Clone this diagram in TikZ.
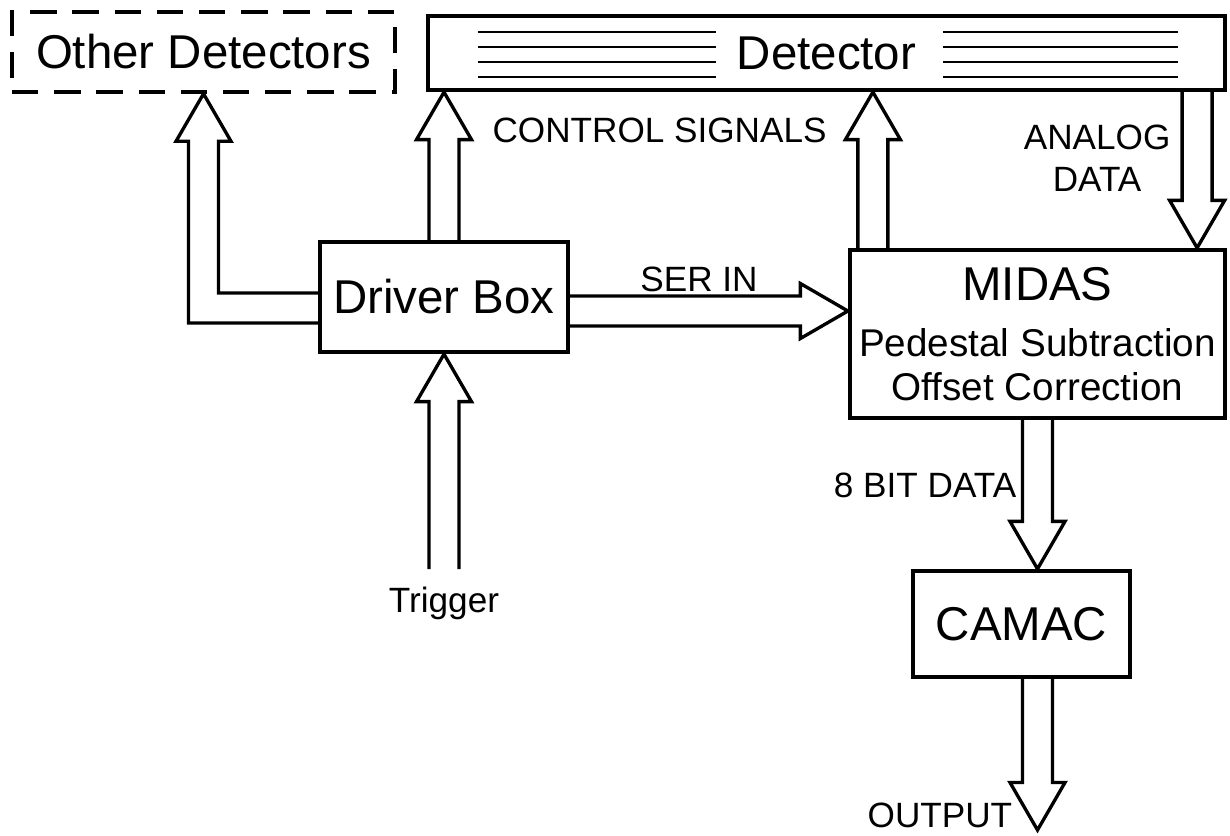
\documentclass[tikz,border=0pt]{standalone}
\usepackage{fontspec}
\setmainfont{Liberation Sans}
\usepackage{tikz}
\usetikzlibrary{positioning, calc}

\tikzset{
    box/.style={draw, line width=2.4pt},
    dashbox/.style={draw, line width=2pt, dash pattern=on 15pt off 9pt},
    blockarrow/.style={line width=1.9pt, line join=miter},
    detline/.style={line width=1.5pt},
    boxtext/.style={font=\fontsize{27}{32}\selectfont},
    lbl/.style={font=\fontsize{20}{24}\selectfont, inner sep=0pt}
}

% hollow block arrow from #1 to the tip #2
\newcommand{\hollowarrow}[2]{%
    \path (#2) coordinate (tip) ($(#2)!0.95cm!(#1)$) coordinate (base);
    \draw[blockarrow] ($(#1)!0.3cm!90:(tip)$) -- ($(base)!0.3cm!90:(tip)$)
        -- ($(base)!0.55cm!90:(tip)$) -- (tip) -- ($(base)!0.55cm!-90:(tip)$)
        -- ($(base)!0.3cm!-90:(tip)$) -- ($(#1)!0.3cm!-90:(tip)$);
}

\begin{document}
\begin{tikzpicture}
    \useasboundingbox (0,0) rectangle (24.6,-16.7);

    % Boxes
    \node[dashbox, boxtext, minimum width=7.66cm, minimum height=1.6cm] (other) at (4.07,-1.04) {Other Detectors};
    \node[box, boxtext, minimum width=15.94cm, minimum height=1.48cm] (det) at (16.53,-1.06) {Detector};
    \node[box, boxtext, minimum width=4.96cm, minimum height=2.2cm] (drv) at (8.88,-5.94) {Driver Box};
    \node[box, align=center, minimum width=7.5cm, minimum height=3.36cm, font=\fontsize{22}{25}\selectfont] (midas) at (20.75,-6.68)
        {{\fontsize{27}{30}\selectfont MIDAS}\\[7pt]Pedestal Subtraction\\Offset Correction};
    \node[box, boxtext, minimum width=4.34cm, minimum height=2.12cm] (camac) at (20.43,-12.48) {CAMAC};

    % Detector strips
    \foreach \dy in {0.42,0.12,-0.18,-0.48} {
        \draw[detline] ($(det.center)+(-6.97,\dy)$) -- ($(det.center)+(-2.21,\dy)$);
        \draw[detline] ($(det.center)+(2.33,\dy)$) -- ($(det.center)+(7.03,\dy)$);
    }

    % Trigger
    \node[lbl, below=4.65cm of drv] (trg) {Trigger};
    \coordinate[above=0.35cm of trg] (trgin);
    \hollowarrow{trgin}{drv.south}

    % Driver box to detector
    \coordinate (drvup) at (drv.north |- det.south);
    \hollowarrow{drv.north}{drvup}

    % Driver box to other detectors
    \coordinate (lstart) at ($(drv.west)+(0,-0.22)$);
    \coordinate (lbend) at (other.south |- lstart);
    \coordinate (lbase) at ($(other.south)+(0,-0.95)$);
    \draw[blockarrow] ($(lstart)+(0,0.3)$) -- ($(lbend)+(0.3,0.3)$) -- ($(lbase)+(0.3,0)$)
        -- ($(lbase)+(0.55,0)$) -- (other.south) -- ($(lbase)+(-0.55,0)$)
        -- ($(lbase)+(-0.3,0)$) -- ($(lbend)+(-0.3,-0.3)$) -- ($(lstart)+(0,-0.3)$);

    % SER IN
    \coordinate (serout) at ($(drv.east)+(0,-0.28)$);
    \coordinate (serin) at (midas.west |- serout);
    \hollowarrow{serout}{serin}
    \node[lbl] (serlbl) at ($(serout)!0.5!(serin)+(-0.2,0.64)$) {SER IN};

    % Control signals
    \coordinate (ctrlout) at ($(midas.north west)+(0.5,0)$);
    \coordinate (ctrlin) at (ctrlout |- det.south);
    \hollowarrow{ctrlout}{ctrlin}
    \node[lbl, anchor=east] (ctrl) at ($(ctrlin)+(-0.92,-0.76)$) {CONTROL SIGNALS};

    % Analog data
    \coordinate (anain) at ($(midas.north east)+(-0.6,0)$);
    \coordinate (anaout) at (anain |- det.south);
    \hollowarrow{anaout}{anain}
    \node[lbl, align=center] (ana) at ($(anaout)+(-2.0,-1.32)$) {ANALOG\\DATA};

    % 8 bit data
    \coordinate (camin) at (midas.south |- camac.north);
    \hollowarrow{midas.south}{camin}
    \node[lbl, anchor=east] (bits) at ($(midas.south)+(-0.42,-1.3)$) {8 BIT DATA};

    % Output
    \coordinate (outtip) at (midas.south |- 0,-16.6);
    \coordinate (outstart) at (outtip |- camac.south);
    \hollowarrow{outstart}{outtip}
    \node[lbl, anchor=east] (outlbl) at ($(outtip)+(-0.5,0.3)$) {OUTPUT};

\end{tikzpicture}
\end{document}
